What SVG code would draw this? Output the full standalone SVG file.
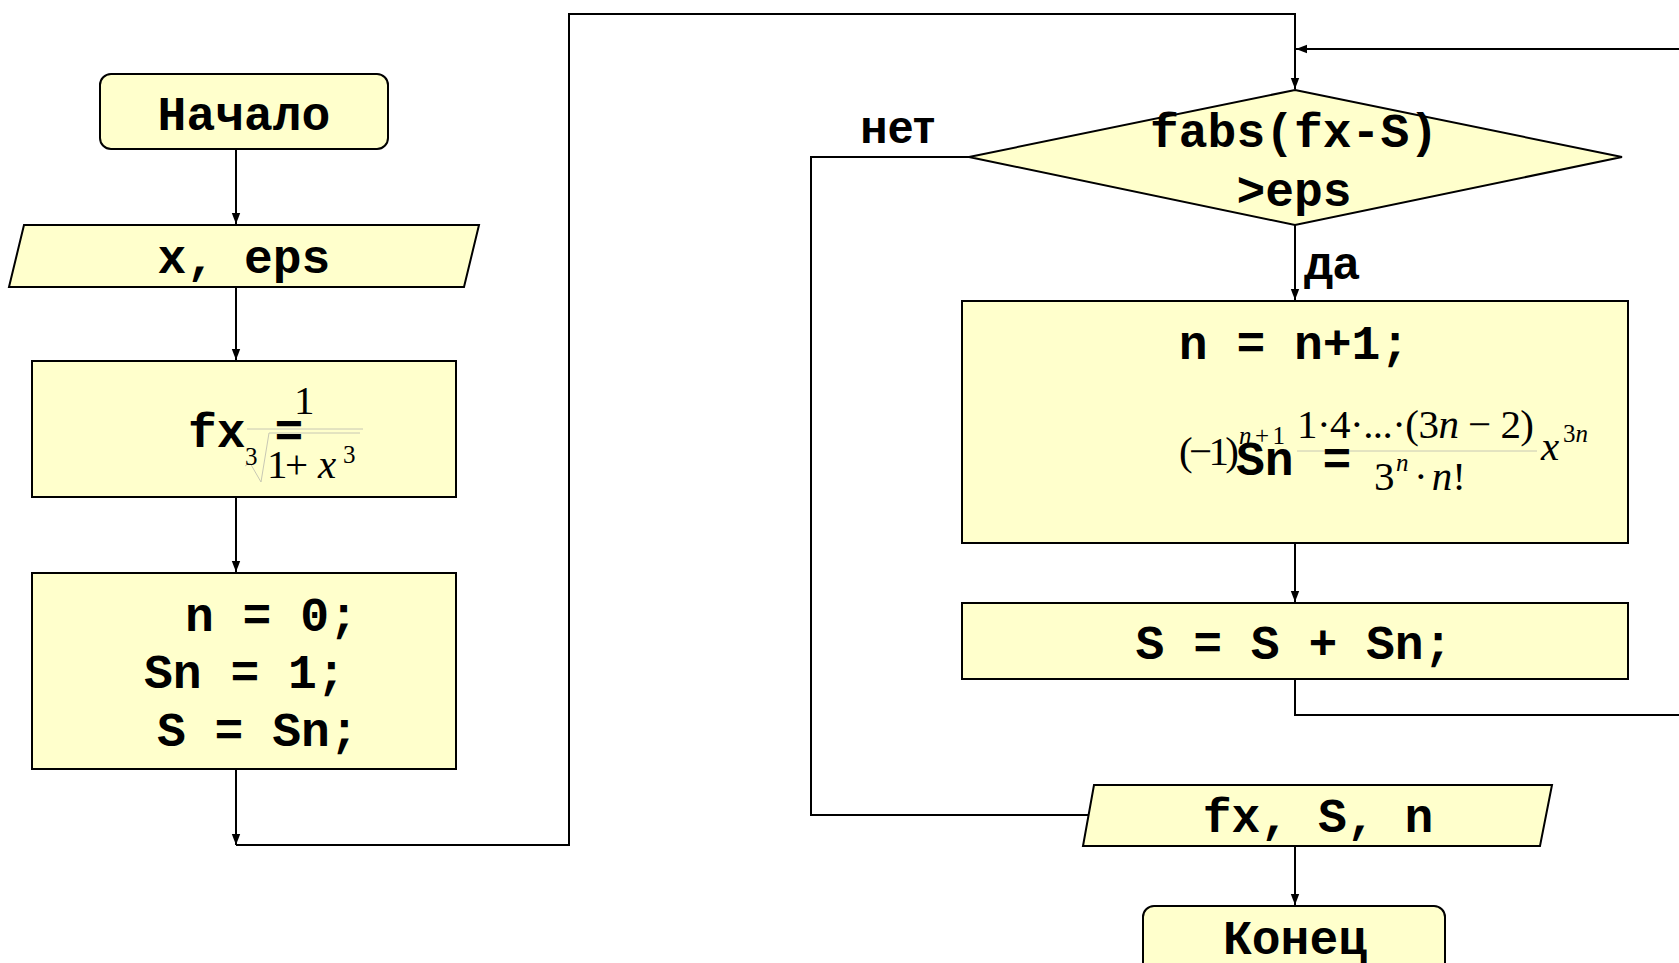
<svg xmlns="http://www.w3.org/2000/svg" width="1679" height="963" viewBox="0 0 1679 963">
<defs>
<marker id="ah" markerUnits="userSpaceOnUse" markerWidth="12" markerHeight="10" refX="11" refY="5" orient="auto">
<path d="M0,0.8 L11,5 L0,9.2 Z" fill="#000"/>
</marker>
<style>
.box{fill:#FFFFCC;stroke:#000;stroke-width:2}
.ln{fill:none;stroke:#000;stroke-width:2}
.code{font-family:"Liberation Mono","Courier New",monospace;font-weight:bold;font-size:48px;fill:#000}
.lbl{font-family:"Liberation Sans",Arial,sans-serif;font-weight:bold;font-size:46px;fill:#000}
.m{font-family:"Liberation Serif","Times New Roman",serif;font-size:41px;fill:#000}
.ms{font-family:"Liberation Serif","Times New Roman",serif;font-size:25px;fill:#000}
.it{font-style:italic}
.thin{fill:none;stroke:#c8c8b4;stroke-width:1}
</style>
</defs>
<rect width="1679" height="963" fill="#fff"/>

<g id="connectors">
<line class="ln" x1="236" y1="149" x2="236" y2="224" marker-end="url(#ah)"/>
<line class="ln" x1="236" y1="287" x2="236" y2="360" marker-end="url(#ah)"/>
<line class="ln" x1="236" y1="497" x2="236" y2="572" marker-end="url(#ah)"/>
<line class="ln" x1="236" y1="769" x2="236" y2="845" marker-end="url(#ah)"/>
<polyline class="ln" points="236,845 569,845 569,14 1295,14 1295,89" marker-end="url(#ah)"/>
<line class="ln" x1="1679" y1="49" x2="1296" y2="49" marker-end="url(#ah)"/>
<line class="ln" x1="1295" y1="225" x2="1295" y2="300" marker-end="url(#ah)"/>
<line class="ln" x1="1295" y1="543" x2="1295" y2="602" marker-end="url(#ah)"/>
<polyline class="ln" points="1295,679 1295,715 1679,715"/>
<polyline class="ln" points="969,157 811,157 811,815 1088,815"/>
<line class="ln" x1="1295" y1="846" x2="1295" y2="905" marker-end="url(#ah)"/>
<text class="lbl" x="860" y="143">нет</text>
<text class="lbl" x="1304" y="279">да</text>
</g>

<g id="start">
<rect class="box" x="100" y="74" width="288" height="75" rx="11"/>
<text class="code" x="244" y="130" text-anchor="middle">Начало</text>
</g>

<g id="input">
<polygon class="box" points="24,225 479,225 464,287 9,287"/>
<text class="code" x="244" y="273" text-anchor="middle">x, eps</text>
</g>

<g id="fx">
<rect class="box" x="32" y="361" width="424" height="136"/>
<line class="thin" x1="247" y1="429" x2="363" y2="429"/>
<polyline class="thin" points="245,466 250,463 261,482 269,433 360,433"/>
<text class="code" x="188" y="447">fx =</text>
<text class="m" x="294" y="414">1</text>
<text class="ms" x="245" y="465">3</text>
<text class="m" x="267" y="478">1</text>
<text class="m" x="285" y="478">+</text>
<text class="m it" x="318" y="478">x</text>
<text class="ms" x="343" y="463">3</text>
</g>

<g id="init">
<rect class="box" x="32" y="573" width="424" height="196"/>
<text class="code" x="185" y="631">n = 0;</text>
<text class="code" x="144" y="688">Sn = 1;</text>
<text class="code" x="157" y="746">S = Sn;</text>
</g>

<g id="cond">
<polygon class="box" points="1295,90 1622,157 1295,225 969,157"/>
<text class="code" x="1294" y="147" text-anchor="middle">fabs(fx-S)</text>
<text class="code" x="1294" y="206" text-anchor="middle">&gt;eps</text>
</g>

<g id="step">
<rect class="box" x="962" y="301" width="666" height="242"/>
<text class="code" x="1294" y="359" text-anchor="middle">n = n+1;</text>
<line class="thin" x1="1297" y1="451" x2="1537" y2="451"/>
<text class="code" x="1236" y="475">Sn =</text>
<text class="m" x="1179" y="465" font-size="37" textLength="60">(−1)</text>
<text class="ms" x="1239" y="444" textLength="46"><tspan class="it">n</tspan>+1</text>
<text class="m" x="1297" y="438" textLength="237">1·4·...·(3<tspan class="it">n</tspan> − 2)</text>
<text class="m" x="1374" y="490">3</text>
<text class="ms it" x="1396" y="471">n</text>
<text class="m" x="1414" y="490">·<tspan class="it" dx="4">n</tspan>!</text>
<text class="m it" x="1541" y="460">x</text>
<text class="ms" x="1563" y="442">3<tspan class="it">n</tspan></text>
</g>

<g id="sum">
<rect class="box" x="962" y="603" width="666" height="76"/>
<text class="code" x="1294" y="659" text-anchor="middle">S = S + Sn;</text>
</g>

<g id="output">
<polygon class="box" points="1094,785 1552,785 1540,846 1083,846"/>
<text class="code" x="1318" y="832" text-anchor="middle">fx, S, n</text>
</g>

<g id="end">
<rect class="box" x="1143" y="906" width="302" height="80" rx="11"/>
<text class="code" x="1295" y="954" text-anchor="middle">Конец</text>
</g>
</svg>
